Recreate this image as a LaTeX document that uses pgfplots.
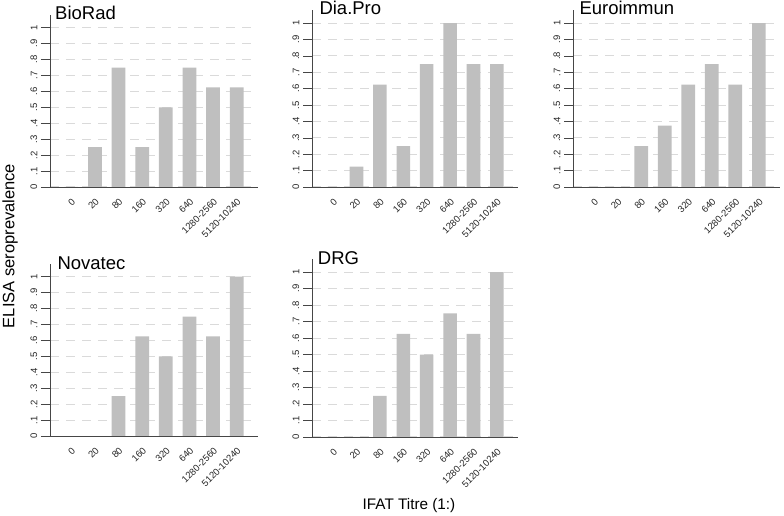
\documentclass[border=0pt]{standalone}
\usepackage{pgfplots}
\pgfplotsset{compat=1.18}
\usepackage{fontspec}
\setmainfont{Liberation Sans}
\definecolor{barg}{RGB}{191,191,191}
\definecolor{gridg}{RGB}{218,218,218}
\definecolor{axg}{RGB}{70,70,70}
\pgfplotsset{
  panel/.style={
    scale only axis,
    anchor=south west,
    xmin=-0.9, xmax=7.9,
    ymin=0, ymax=1.08,
    axis lines=left,
    axis line style={-, axg, line width=0.8bp},
    xtick={0,1,2,3,4,5,6,7},
    xticklabels={0,20,80,160,320,640,1280-2560,5120-10240},
    ytick={0,0.1,0.2,0.3,0.4,0.5,0.6,0.7,0.8,0.9,1},
    yticklabels={0,.1,.2,.3,.4,.5,.6,.7,.8,.9,1},
    x tick style={draw=none},
    y tick style={axg, line width=0.6bp},
    tick align=outside,
    major tick length=9bp,
    ymajorgrids,
    major grid style={gridg, line width=1bp, dash pattern=on 9bp off 7bp},
    yticklabel style={rotate=90, anchor=south, inner sep=3.5bp, font=\fontsize{9.5bp}{11bp}\selectfont, text=black!85},
    xticklabel style={rotate=45, anchor=north east, inner sep=1bp, font=\fontsize{9.5bp}{10bp}\selectfont, text=black!85},
    ybar, bar width=0.58,
  },
  barstyle/.style={fill=barg, draw=none},
}
\begin{document}
\begin{tikzpicture}
\path[use as bounding box] (0bp,0bp) rectangle (784bp,516bp);
% BioRad
\begin{axis}[panel, at={(50bp,329bp)}, width=208bp, height=172bp]
\addplot[barstyle] coordinates {(0,0) (1,0.25) (2,0.75) (3,0.25) (4,0.5) (5,0.75) (6,0.625) (7,0.625)};
\end{axis}
% Dia.Pro
\begin{axis}[panel, at={(312bp,329bp)}, width=206bp, height=177bp]
\addplot[barstyle] coordinates {(0,0) (1,0.125) (2,0.625) (3,0.25) (4,0.75) (5,1) (6,0.75) (7,0.75)};
\end{axis}
% Euroimmun
\begin{axis}[panel, at={(573bp,329bp)}, width=207bp, height=177bp]
\addplot[barstyle] coordinates {(0,0) (1,0) (2,0.25) (3,0.375) (4,0.625) (5,0.75) (6,0.625) (7,1)};
\end{axis}
% Novatec
\begin{axis}[panel, at={(50bp,80bp)}, width=208bp, height=172bp]
\addplot[barstyle] coordinates {(0,0) (1,0) (2,0.25) (3,0.625) (4,0.5) (5,0.75) (6,0.625) (7,1)};
\end{axis}
% DRG
\begin{axis}[panel, at={(312bp,79bp)}, width=206bp, height=178bp]
\addplot[barstyle] coordinates {(0,0) (1,0) (2,0.25) (3,0.625) (4,0.5) (5,0.75) (6,0.625) (7,1)};
\end{axis}
\begin{scope}[every node/.style={inner sep=0pt, font=\fontsize{18.5bp}{20bp}\selectfont}]
\node[anchor=base west] at (55bp,496.7bp) {BioRad};
\node[anchor=base west] at (319.3bp,501bp) {Dia.Pro};
\node[anchor=base west] at (579.3bp,501bp) {Euroimmun};
\node[anchor=base west] at (57.3bp,246bp) {Novatec};
\node[anchor=base west] at (317.7bp,251bp) {DRG};
\end{scope}
\node[inner sep=0pt, rotate=90, font=\fontsize{16.5bp}{18bp}\selectfont] at (10bp,270bp) {ELISA seroprevalence};
\node[inner sep=0pt, anchor=base, font=\fontsize{15.3bp}{17bp}\selectfont] at (409bp,7bp) {IFAT Titre (1:)};
\end{tikzpicture}
\end{document}
